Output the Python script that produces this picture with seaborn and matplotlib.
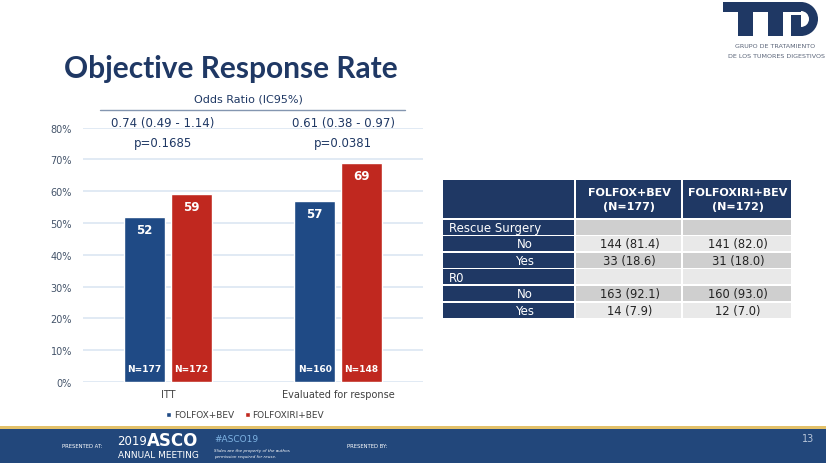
import pandas as pd
import matplotlib.pyplot as plt
import seaborn as sns
from matplotlib.patches import Rectangle, Wedge
from matplotlib.ticker import PercentFormatter

# ---------- DATA ----------
groups = ["ITT", "Evaluated for response"]
arms = ["FOLFOX+BEV", "FOLFOXIRI+BEV"]
orr_folfox = [52, 57]
orr_folfoxiri = [59, 69]
n_folfox = [177, 160]
n_folfoxiri = [172, 148]
odds_ratio = ["0.74 (0.49 - 1.14)", "0.61 (0.38 - 0.97)"]
p_values = ["p=0.1685", "p=0.0381"]

table_header = ["FOLFOX+BEV\n(N=177)", "FOLFOXIRI+BEV\n(N=172)"]
table_rows = ["Rescue Surgery", "No", "Yes", "R0", "No", "Yes"]
table_section = [True, False, False, True, False, False]
table_col1 = ["", "144 (81.4)", "33 (18.6)", "", "163 (92.1)", "14 (7.9)"]
table_col2 = ["", "141 (82.0)", "31 (18.0)", "", "160 (93.0)", "12 (7.0)"]
# ---------------------------

NAVY = "#1F3864"
BLUE = "#1F4A85"
RED = "#C0281F"
W, H = 826, 464

sns.set_theme(style="white")
plt.rcParams["font.family"] = ["DejaVu Sans"]

fig = plt.figure(figsize=(W / 100, H / 100), dpi=100)

# overlay in pixel coordinates for slide decorations
bg = fig.add_axes([0, 0, 1, 1], zorder=0)
bg.set_xlim(0, W)
bg.set_ylim(H, 0)
bg.axis("off")

df = pd.DataFrame({
    "group": groups * 2,
    "arm": [arms[0]] * 2 + [arms[1]] * 2,
    "orr": [v / 100 for v in orr_folfox + orr_folfoxiri],
    "n": n_folfox + n_folfoxiri,
})

ax = fig.add_axes([83 / W, (H - 383) / H, 340 / W, (383 - 128.6) / H], zorder=1)
ax.patch.set_alpha(0)
sns.barplot(data=df, x="group", y="orr", hue="arm", palette=[BLUE, RED],
            width=0.55, gap=0.11, saturation=1, ax=ax, legend=True)
ax.set_ylim(0, 0.8)
ax.set_xlim(-0.5, 1.5)
ax.yaxis.set_major_formatter(PercentFormatter(1.0, decimals=0))
ax.set_yticks([i / 10 for i in range(9)])
ax.grid(axis="y", color="#DCE6F2", lw=1.2)
ax.set_axisbelow(True)
for s in ax.spines.values():
    s.set_visible(False)
ax.set_xlabel("")
ax.set_ylabel("")
ax.tick_params(axis="y", labelsize=7, labelcolor="#44546A", pad=8, length=0)
ax.tick_params(axis="x", labelsize=7, labelcolor="#404040", pad=5, length=0)

for cont, arm in zip(ax.containers, arms):
    sub = df[df["arm"] == arm]
    for bar, v, n in zip(cont, sub["orr"], sub["n"]):
        cx = bar.get_x() + bar.get_width() / 2
        ax.annotate(f"{round(v * 100)}", (cx, bar.get_height()), xytext=(0, -9),
                    textcoords="offset points", ha="center", va="center",
                    color="white", fontsize=8.5, fontweight="bold")
        ax.annotate(f"N={n}", (cx, 0), xytext=(0, 9.5),
                    textcoords="offset points", ha="center", va="center",
                    color="white", fontsize=6.5, fontweight="bold")

handles, labels = ax.get_legend_handles_labels()
ax.legend(handles, labels, loc="center", bbox_to_anchor=(245 / W, 1 - 416 / H),
          bbox_transform=fig.transFigure, ncol=2, frameon=False, fontsize=6.5,
          handlelength=0.55, handleheight=0.55, handletextpad=0.3,
          columnspacing=1.2, labelcolor="#404040")

# title and odds ratio header
bg.text(64, 69, "Objective Response Rate", fontsize=21.5, fontweight="bold",
        color=NAVY, va="center", ha="left", family="Lato")
bg.text(248, 100, "Odds Ratio (IC95%)", fontsize=8, color=NAVY, ha="center", va="center")
bg.plot([100, 405], [111, 111], color="#8496B0", lw=1)
for cx, orr_txt, p_txt in zip([163, 343], odds_ratio, p_values):
    bg.text(cx, 123, orr_txt, fontsize=8.5, color=NAVY, ha="center", va="center")
    bg.text(cx, 144, p_txt, fontsize=8.5, color=NAVY, ha="center", va="center")

# table
col_x = [443, 576, 683, 793]
hdr_top, hdr_bot = 181, 219
row_h = 16.6
for j, txt in enumerate(table_header):
    bg.add_patch(Rectangle((col_x[j + 1], hdr_top), col_x[j + 2] - col_x[j + 1] - 2,
                           hdr_bot - hdr_top, color=NAVY, lw=0))
    bg.text((col_x[j + 1] + col_x[j + 2]) / 2, (hdr_top + hdr_bot) / 2, txt,
            color="white", fontsize=8, fontweight="bold", ha="center", va="center",
            linespacing=1.4)
bg.add_patch(Rectangle((col_x[0], hdr_top), col_x[1] - col_x[0] - 2,
                       hdr_bot - hdr_top, color=NAVY, lw=0))
for i, (lab, sec, c1, c2) in enumerate(zip(table_rows, table_section, table_col1, table_col2)):
    top = hdr_bot + 1.5 + i * row_h
    fill = "#CFCFCF" if i % 2 == 0 else "#E9E9E9"
    bg.add_patch(Rectangle((col_x[0], top), col_x[1] - col_x[0] - 2, row_h - 1.5,
                           color=NAVY, lw=0))
    for j, val in enumerate([c1, c2]):
        bg.add_patch(Rectangle((col_x[j + 1], top), col_x[j + 2] - col_x[j + 1] - 2,
                               row_h - 1.5, color=fill, lw=0))
        bg.text((col_x[j + 1] + col_x[j + 2]) / 2, top + row_h / 2 - 0.5, val,
                fontsize=8.3, color="#222222", ha="center", va="center")
    if sec:
        bg.text(col_x[0] + 6, top + row_h / 2 - 0.5, lab, fontsize=8.5, color="white",
                ha="left", va="center")
    else:
        bg.text(525, top + row_h / 2 - 0.5, lab, fontsize=8.5, color="white",
                ha="center", va="center")

# logo
bg.add_patch(Rectangle((723, 3), 78, 10, color=NAVY, lw=0))
bg.add_patch(Rectangle((738, 13), 15, 24, color=NAVY, lw=0))
bg.add_patch(Rectangle((768, 13), 15, 24, color=NAVY, lw=0))
bg.add_patch(Rectangle((791, 16), 10, 21, color=NAVY, lw=0))
bg.add_patch(Wedge((801, 20), 17, -90, 90, width=9, color=NAVY, lw=0))
bg.text(775, 47, "GRUPO DE TRATAMIENTO", fontsize=4.6, color="#5A6478", ha="center", va="center")
bg.text(777, 57, "DE LOS TUMORES DIGESTIVOS", fontsize=4.6, color="#5A6478", ha="center", va="center")

# footer
bg.add_patch(Rectangle((0, 427), W, 3, color="#E3C169", lw=0))
bg.add_patch(Rectangle((0, 430), W, 34, color="#22477B", lw=0))
bg.text(62, 447, "PRESENTED AT:", fontsize=3.8, color="white", ha="left", va="center")
bg.text(117, 442, "2019", fontsize=8.5, color="white", ha="left", va="center")
bg.text(147, 441, "ASCO", fontsize=12, color="white", ha="left", va="center", fontweight="bold")
bg.text(118, 456, "ANNUAL MEETING", fontsize=6.5, color="white", ha="left", va="center")
bg.text(214, 440, "#ASCO19", fontsize=6.5, color="#7FB4E4", ha="left", va="center")
bg.text(214, 451, "Slides are the property of the author,", fontsize=3, color="white",
        ha="left", va="center", style="italic")
bg.text(214, 457, "permission required for reuse.", fontsize=3, color="white",
        ha="left", va="center", style="italic")
bg.text(347, 447, "PRESENTED BY:", fontsize=3.8, color="white", ha="left", va="center")
bg.text(808, 439, "13", fontsize=7, color="#B8C6DA", ha="center", va="center")

fig.savefig("out.png", dpi=100)
